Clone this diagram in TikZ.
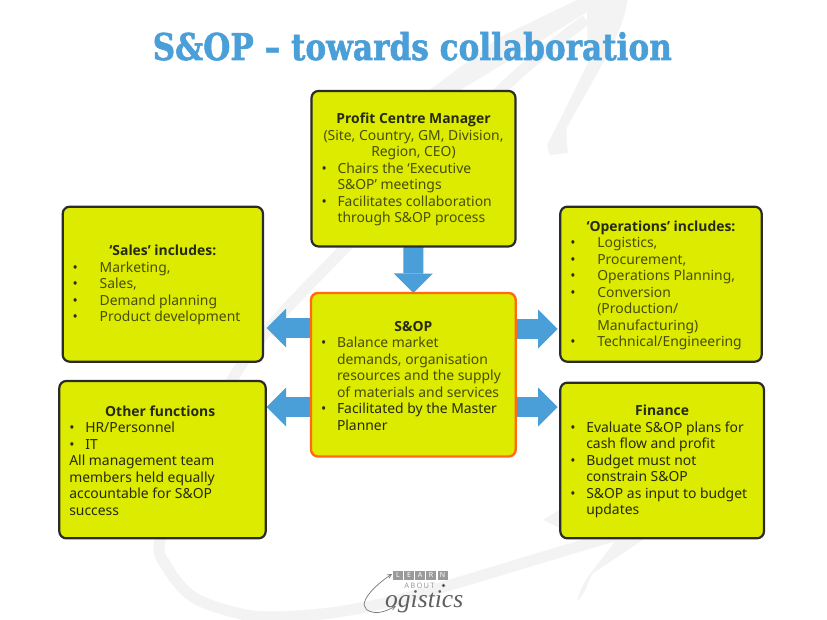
\documentclass[tikz,border=0pt]{standalone}
\usepackage{fontspec}
\usepackage{graphicx}
\usetikzlibrary{arrows.meta}
\setmainfont{Noto Sans}
\newfontfamily\headfont{Open Sans}
\newfontfamily\titlefont{DejaVu Serif}[FakeBold=1.6]
\newfontfamily\logofont{Liberation Serif}
\definecolor{limefill}{HTML}{DDEB00}
\definecolor{edgedark}{HTML}{2B2B2B}
\definecolor{edgeorange}{HTML}{FF6A13}
\definecolor{arrowblue}{HTML}{4A9FD8}
\definecolor{swooshgrey}{HTML}{F3F3F3}
\definecolor{inkdark}{HTML}{262A10}
\definecolor{inkolive}{HTML}{484E08}
\definecolor{logotile}{HTML}{9A9A9A}
\definecolor{logoline}{HTML}{777777}
\newcommand{\bodyfont}{\fontsize{13.9}{16.5}\selectfont}
% heading line, centred in the text block; optional argument shifts it
\newcommand{\hdline}[2][0pt]{\par\vspace*{2pt}\par\noindent\hspace*{#1}\makebox[\linewidth][c]{\headfont\bfseries\color{inkdark}#2}}
\newcommand{\censtr}[1]{\par\noindent\makebox[\linewidth][c]{#1}}
\newcommand{\bulline}[2]{\par\noindent\makebox[#1][l]{{\color{inkdark}•}}#2}
\newcommand{\contline}[2]{\par\noindent\hspace*{#1}#2}
\pgfdeclarelayer{backdrop}
\pgfsetlayers{backdrop,main}
\tikzset{
  card/.style={draw=edgedark,fill=limefill,line width=2.2pt,rounded corners=7pt,inner sep=0pt,outer sep=0pt,font=\bodyfont},
  corecard/.style={card,draw=edgeorange,line width=2.4pt},
  blockarrow/.style={draw=arrowblue,line width=20pt,-{Triangle[length=19.5pt,width=39pt,line width=0pt,fill=arrowblue]}},
  swoosh/.style={draw=swooshgrey,line width=11pt},
  swooshfill/.style={fill=swooshgrey,draw=none},
  tile/.style={fill=logotile,text=white,inner sep=0pt,outer sep=0pt,minimum width=10pt,minimum height=9pt,font=\fontsize{7}{7}\selectfont\bfseries},
  logoline/.style={draw=logoline,line width=0.7pt,-{Straight Barb[length=4pt,width=4pt]}}
}
\begin{document}
\begin{tikzpicture}[x=1pt,y=-1pt]
\useasboundingbox (0,0) rectangle (827,620);
% background swoosh
\begin{pgfonlayer}{backdrop}
\fill[white] (0,0) rectangle (827,620);
\draw[swoosh] plot[smooth,tension=.55] coordinates {(586,20) (505,86) (346,247) (272,325) (231,382) (190,470) (160,540) (167,567) (193,597) (237,613) (273,617) (330,613) (390,602) (450,585) (560,552) (650,525)};
\fill[swooshfill] (577,0) -- (627,0) -- (627,3) .. controls (622,30) and (610,50) .. (603,63) -- (567,127) .. controls (566,135) and (567,145) .. (568,153) -- (550,155) .. controls (547,150) and (547,146) .. (548,143) -- (560,120) -- (588,63) -- (587,12) -- (500,66) -- (457,92) -- (425,95) -- (431,89) -- (500,37) -- cycle;
\fill[swooshfill] (543,520) -- (575,500) -- (575,535) -- cycle;
\fill[swooshfill] (577,601) .. controls (580,590) and (585,580) .. (593,570) -- (620,535) -- (650,535) -- (592,574) .. controls (588,582) and (585,595) .. (577,601) -- cycle;
\end{pgfonlayer}
% title
\node[anchor=base west,inner sep=0pt,text=arrowblue] (title) at (152.5,60)
  {\resizebox{519pt}{28pt}{\titlefont\bfseries S\&OP – towards collaboration}};
% cards
\node[card,minimum width=204pt,minimum height=155.5pt] (pm) at (413.5,168.7) {\begin{minipage}{184pt}\color{inkolive}
\hdline{Profit Centre Manager}
\censtr{(Site, Country, GM, Division,}
\censtr{Region, CEO)}
\bulline{16pt}{Chairs the ‘Executive}
\contline{16pt}{S\&OP’ meetings}
\bulline{16pt}{Facilitates collaboration}
\contline{16pt}{through S\&OP process}
\end{minipage}};
\node[card,minimum width=200.3pt,minimum height=155pt] (sales) at (162.85,284.2) {\begin{minipage}{180.3pt}\color{inkolive}
\hdline{‘Sales’ includes:}
\bulline{27pt}{Marketing,}
\bulline{27pt}{Sales,}
\bulline{27pt}{Demand planning}
\bulline{27pt}{Product development}
\end{minipage}};
\node[card,minimum width=201.4pt,minimum height=155pt] (ops) at (661,284.2) {\begin{minipage}{181.4pt}\color{inkolive}
\hdline{‘Operations’ includes:}
\bulline{27pt}{Logistics,}
\bulline{27pt}{Procurement,}
\bulline{27pt}{Operations Planning,}
\bulline{27pt}{Conversion}
\contline{27pt}{(Production/}
\contline{27pt}{Manufacturing)}
\bulline{27pt}{Technical/Engineering}
\end{minipage}};
\node[corecard,minimum width=204.7pt,minimum height=163.5pt] (sop) at (413.35,374.75) {\begin{minipage}{184.7pt}\color{inkolive}
\hdline{S\&OP}
\bulline{16pt}{Balance market}
\contline{16pt}{demands, organisation}
\contline{16pt}{resources and the supply}
\contline{16pt}{of materials and services}
{\color{inkdark}\bulline{16pt}{Facilitated by the Master}
\contline{16pt}{Planner}}
\end{minipage}};
\node[card,minimum width=206.4pt,minimum height=157.3pt] (other) at (162.5,459.65) {\begin{minipage}{186.4pt}\color{inkdark}
\hdline[-2.3pt]{Other functions}
\bulline{16pt}{HR/Personnel}
\bulline{16pt}{IT}
\par\noindent All management team
\par\noindent members held equally
\par\noindent accountable for S\&OP
\par\noindent success
\end{minipage}};
\node[card,minimum width=203.7pt,minimum height=155.6pt] (fin) at (662.15,460.5) {\begin{minipage}{183.7pt}\color{inkdark}
\hdline{Finance}
\bulline{16pt}{Evaluate S\&OP plans for}
\contline{16pt}{cash flow and profit}
\bulline{16pt}{Budget must not}
\contline{16pt}{constrain S\&OP}
\bulline{16pt}{S\&OP as input to budget}
\contline{16pt}{updates}
\end{minipage}};
% block arrows
\coordinate (rowA) at (0,328);
\coordinate (rowB) at (0,329);
\coordinate (rowC) at (0,407);
\begin{pgfonlayer}{backdrop}
\draw[blockarrow] (pm.south) -- (sop.north);
\draw[blockarrow,shorten >=3.7pt] (sop.west |- rowA) -- (sales.east |- rowA);
\draw[blockarrow,shorten >=1pt] (sop.west |- rowC) -- (other.east |- rowC);
\draw[blockarrow,shorten >=2.6pt] (sop.east |- rowB) -- (ops.west |- rowB);
\draw[blockarrow,shorten >=2.6pt] (sop.east |- rowC) -- (fin.west |- rowC);
\end{pgfonlayer}
% logo
\node[tile] (l1) at (398,575.2) {L};
\node[tile] (l2) at (409,575.2) {E};
\node[tile] (l3) at (420,575.2) {A};
\node[tile] (l4) at (431,575.2) {R};
\node[tile] (l5) at (442.5,575.2) {N};
\node[inner sep=0pt,text=logotile,font=\fontsize{7.5}{7.5}\selectfont] (about) at (419.5,586) {A\,B\,O\,U\,T};
\fill[logoline] (443.5,585.5) circle (1.3pt);
\node[anchor=base west,inner sep=0pt,text=logoline!80!black] (brand) at (385,607) {\resizebox{78pt}{!}{\logofont\itshape ogistics}};
\coordinate (lstart) at (372,612);
\draw[logoline] (lstart) .. controls (352,607) and (375,585) .. (392,574);
\draw[logoline] (lstart) .. controls (380,614) and (388,610) .. (396,606);
\end{tikzpicture}
\end{document}
